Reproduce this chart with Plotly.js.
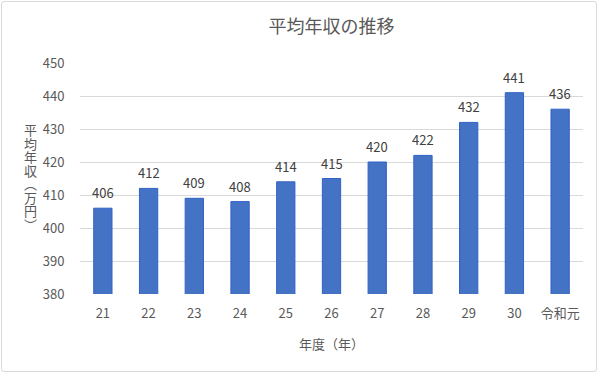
<!DOCTYPE html>
<html><head><meta charset="utf-8">
<script src="https://cdn.plot.ly/plotly-3.0.1.min.js"></script>
<style>
html,body{margin:0;padding:0;background:#fff;}
#frame{position:absolute;left:1px;top:1px;width:594px;height:369px;border:1px solid #d9d9d9;border-radius:3px;}
#chart{position:absolute;left:0;top:0;width:600px;height:374px;}
#ytitle{position:absolute;left:22px;top:124px;width:16px;writing-mode:vertical-rl;text-orientation:mixed;
  font-family:"Noto Sans CJK JP",sans-serif;font-size:13px;line-height:16px;letter-spacing:0.5px;color:#595959;white-space:nowrap;}
</style></head>
<body>
<div id="frame"></div>
<div id="chart"></div>
<div id="ytitle"></div>
<script>
const categories = ['21','22','23','24','25','26','27','28','29','30','令和元'];
const values = [406,412,409,408,414,415,420,422,432,441,436];
const titleText = '平均年収の推移';
const xTitle = '年度（年）';
const yTitle = '平均年収（万円）';
const FONT = '"Noto Sans CJK JP", "Noto Sans", sans-serif';

document.getElementById('ytitle').textContent = yTitle;

const M = {l:80, r:17, t:63, b:80};
const PH = 374 - M.t - M.b;
const px2y = y => (374 - M.b - y) / PH;

const labelAnn = categories.map((c, i) => ({
  text:String(values[i]), x:i, y:values[i], xref:'x', yref:'y',
  xanchor:'center', yanchor:'bottom', yshift:4, showarrow:false,
  font:{family:FONT, size:13, color:'#404040'}
}));

Plotly.newPlot('chart', [{
  type:'bar', x:categories, y:values,
  marker:{color:'#4472C4', line:{color:'#2F62C8', width:1}},
  width:0.4, hoverinfo:'none'
}], {
  width:600, height:374,
  paper_bgcolor:'rgba(0,0,0,0)', plot_bgcolor:'rgba(0,0,0,0)',
  margin:M,
  font:{family:FONT, color:'#595959', size:13},
  showlegend:false,
  title:{text:titleText, x:0.5, xref:'paper', xanchor:'center', y:1-27/374, yref:'container', yanchor:'middle',
         font:{family:FONT, size:18, color:'#595959'}},
  xaxis:{type:'category', range:[-0.5, categories.length-0.5], autorange:false,
         showgrid:false, zeroline:false, showline:false,
         ticks:'outside', ticklen:7, tickcolor:'rgba(0,0,0,0)',
         tickfont:{family:FONT, size:13, color:'#595959'}},
  yaxis:{range:[380,450], autorange:false, dtick:10, showgrid:true, gridcolor:'#d9d9d9', gridwidth:1,
         zeroline:false, showline:false, ticks:'outside', ticklen:12, tickcolor:'rgba(0,0,0,0)',
         tickfont:{family:FONT, size:13, color:'#595959'}},
  annotations:[
    {text:xTitle, xref:'paper', yref:'paper', x:0.5, y:px2y(343), xanchor:'center', yanchor:'middle',
     showarrow:false, font:{family:FONT, size:13, color:'#595959'}}
  ].concat(labelAnn)
}, {staticPlot:true});
</script>
</body></html>
